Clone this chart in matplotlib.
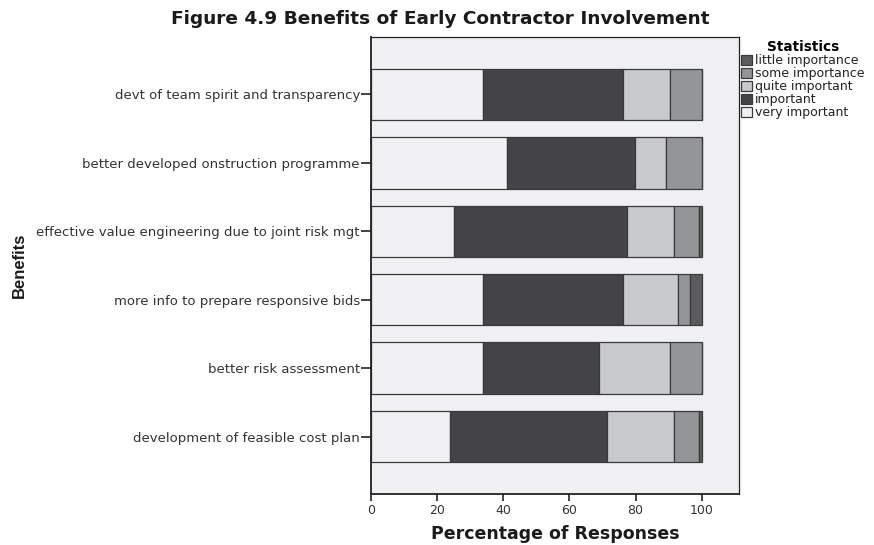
import matplotlib
matplotlib.use("Agg")
import matplotlib.pyplot as plt
import numpy as np

plt.rcParams['font.family'] = ['DejaVu Sans']

categories = [
    "devt of team spirit and transparency",
    "better developed onstruction programme",
    "effective value engineering due to joint risk mgt",
    "more info to prepare responsive bids",
    "better risk assessment",
    "development of feasible cost plan",
]
series_names = ["very important", "important", "quite important", "some importance", "little importance"]
very_important = [33.8, 41.0, 25.2, 33.8, 33.8, 24.0]
important = [42.5, 38.7, 52.3, 42.5, 35.2, 47.4]
quite_important = [14.2, 9.5, 14.2, 16.6, 21.5, 20.3]
some_importance = [9.5, 10.8, 7.4, 3.6, 9.5, 7.4]
little_importance = [0.0, 0.0, 0.9, 3.5, 0.0, 0.9]
colors = ["#f0f0f2", "#444446", "#c8c9cb", "#949597", "#5c5c5e"]
xticks = [0, 20, 40, 60, 80, 100]

fig = plt.figure(figsize=(8.74, 5.45), dpi=100)
fig.patch.set_facecolor("white")
ax = fig.add_axes([371/874, 1-494/545, (739-371)/874, (494-37)/545])
ax.set_facecolor("#f0f0f2")

data = [very_important, important, quite_important, some_importance, little_importance]
y = np.arange(len(categories))
left = np.zeros(len(categories))
handles = []
for name, vals, col in zip(series_names, data, colors):
    vals = np.array(vals)
    b = ax.barh(y, vals, left=left, height=0.75, color=col, edgecolor="#3a3a3a",
                linewidth=0.9, label=name)
    handles.append(b)
    left += vals

ax.set_ylim(5.84, -0.84)
ax.set_xlim(0, 111.3)
ax.set_yticks(y)
ax.set_yticklabels(categories, fontsize=9.5, color="#333333")
ax.set_xticks(xticks)
ax.set_xticklabels([str(t) for t in xticks], fontsize=9, color="#333333")
ax.tick_params(axis='y', length=7, width=1.2, color="#222222", pad=1)
ax.tick_params(axis='x', length=5, width=1.2, color="#222222", pad=2)
for side in ["left", "bottom"]:
    ax.spines[side].set_linewidth(1.3)
    ax.spines[side].set_color("#222222")
for side in ["top", "right"]:
    ax.spines[side].set_linewidth(0.9)
    ax.spines[side].set_color("#222222")

ax.set_xlabel("Percentage of Responses", fontsize=12.5, fontweight="bold", labelpad=6,
              color="#1a1a1a")
fig.text(19/874, 1-265/545, "Benefits", rotation=90, fontsize=12, fontweight="bold",
         ha="center", va="center", color="#1a1a1a",
         family=["Liberation Sans Narrow", "Liberation Sans"])
fig.text(440/874, 1-19/545, "Figure 4.9 Benefits of Early Contractor Involvement",
         fontsize=13.3, fontweight="bold", ha="center", va="center", color="#1a1a1a")

leg = fig.legend(handles[::-1], series_names[::-1], loc="upper left",
                 bbox_to_anchor=(740/874, 1-39/545), frameon=False, fontsize=9,
                 title="Statistics", title_fontproperties={"weight": "bold", "size": 9.8},
                 handlelength=0.85, handleheight=0.85, handletextpad=0.25, labelspacing=0.0,
                 borderpad=0.1, borderaxespad=0)
for t in leg.get_texts():
    t.set_color("#222222")

fig.savefig("out.png", dpi=100)
